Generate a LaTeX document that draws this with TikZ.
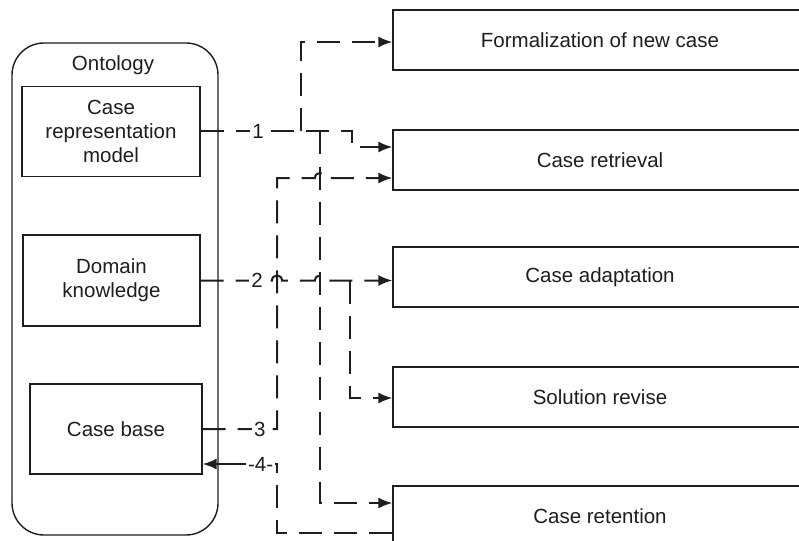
\documentclass[tikz,border=0pt]{standalone}
\usepackage{fontspec}
\setmainfont{Liberation Sans}
\usetikzlibrary{arrows.meta}
\definecolor{ink}{HTML}{1E1E1E}
\tikzset{
  every node/.style={font=\fontsize{20.5}{24}\selectfont, text=ink},
  lbox/.style={draw=ink, line width=1.3pt, align=center, inner sep=0pt},
  rbox/.style={draw=ink, line width=1.3pt, minimum width=414pt, minimum height=60pt, inner sep=0pt},
  conn/.style={draw=ink, line width=2pt, dash pattern=on 23pt off 12pt, -{Latex[length=14pt,width=11pt]}},
  conn0/.style={draw=ink, line width=2pt, dash pattern=on 23pt off 12pt},
  solidarr/.style={draw=ink, line width=2pt, -{Latex[length=14pt,width=11pt]}},
  lbl/.style={fill=white, inner sep=2pt},
}
\begin{document}
\begin{tikzpicture}[x=1pt,y=-1pt]
\useasboundingbox (0,0) rectangle (799,540);
\clip (0,0) rectangle (799,540);
\fill[white] (0,0) rectangle (799,540);

% left: ontology
\node[draw=ink, line width=1.4pt, rounded corners=32pt, minimum width=206pt, minimum height=492pt] (ont) at (115,289) {};
\node (ontlbl) at (113,65) {Ontology};
\node[lbox, minimum width=178pt, minimum height=90pt] (crm) at (111,131.5) {Case\\representation\\model};
\node[lbox, minimum width=177pt, minimum height=91pt] (dk) at (111.5,280.5) {Domain\\knowledge};
\node[lbox, minimum width=172pt, minimum height=90pt] (cb) at (116,429) {Case base};

% right: process boxes
\node[rbox] (fn) at (600,40) {Formalization of new case};
\node[rbox] (cr) at (600,160) {Case retrieval};
\node[rbox] (ca) at (600,277) {Case adaptation};
\node[rbox] (sr) at (600,397) {Solution revise};
\node[rbox] (ct) at (600,516) {Case retention};

% coordinates
\coordinate (p1) at (301,131.5);
\coordinate (p2) at (320,131.5);
\coordinate (p3) at (352,131.5);
\coordinate (p4) at (352,147);
\coordinate (p5) at (301,42);
\coordinate (p6) at (320,503);
\coordinate (q1) at (277,429);
\coordinate (q2) at (277,178);
\coordinate (r1) at (277,533);
\coordinate (r2) at (277,464);
\coordinate (r3) at (236,464);
\coordinate (s1) at (350,280.5);
\coordinate (s2) at (350,398);

% line 1
\draw[conn] (crm.east) -- node[lbl, pos=0.38]{1} (p3) -- (p4) -- (p4 -| cr.west);
\draw[conn] (p1) -- (p5) -- (p5 -| fn.west);
\draw[conn] (p2) -- (p6) -- (p6 -| ct.west);

% line 2
\draw[conn] (dk.east) -- node[lbl, pos=0.79]{2} (272,280.5)
  .. controls +(0,-6.7) and +(0,-6.7) .. (282,280.5) -- (315,280.5)
  .. controls +(0,-6.7) and +(0,-6.7) .. (325,280.5) -- (dk.east -| ca.west);
\draw[conn] (s1) -- (s2) -- (s2 -| sr.west);

% line 3
\draw[conn] (cb.east) -- node[lbl, pos=0.77]{3} (q1) -- (q2) -- (315,178)
  .. controls +(0,-6.7) and +(0,-6.7) .. (325,178) -- (q2 -| cr.west);

% line 4
\draw[conn0] (r1 -| ct.west) -- (r1) -- (r2) -- node[lbl, pos=0.4]{-4-} (r3);
\draw[solidarr] (r3) -- (r3 -| cb.east);
\end{tikzpicture}
\end{document}
